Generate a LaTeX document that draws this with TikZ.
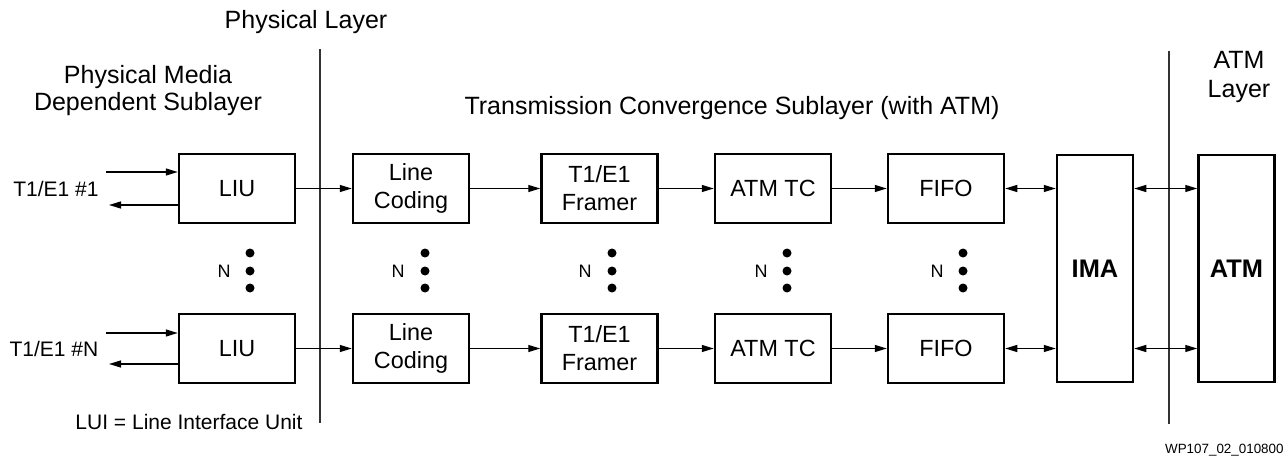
\documentclass[tikz,border=0pt]{standalone}
\usepackage{fontspec}
\setmainfont{Liberation Sans}
\usetikzlibrary{arrows.meta}
\begin{document}
\begin{tikzpicture}[x=0.5pt,y=-0.5pt,
  blk/.style={draw,line width=1.25pt,inner sep=0pt,minimum width=58pt,minimum height=34.5pt,align=center,font=\fontsize{11.7}{14}\selectfont},
  tall/.style={draw,line width=1.25pt,inner sep=0pt,minimum width=38pt,minimum height=113.5pt,font=\fontsize{12.7}{15}\selectfont\bfseries},
  hdr/.style={inner sep=0pt,align=center,font=\fontsize{12.5}{13}\selectfont},
  lbl/.style={inner sep=0pt,font=\fontsize{10.5}{12}\selectfont},
  nlbl/.style={inner sep=0pt,font=\fontsize{9}{11}\selectfont},
  dot/.style={circle,fill,inner sep=0pt,minimum size=4.5pt},
  conn/.style={line width=0.65pt,-{Triangle[length=6pt,width=3.5pt]}},
  bconn/.style={line width=0.65pt,{Triangle[length=6pt,width=3.5pt]}-{Triangle[length=6pt,width=3.5pt]}},
  sep/.style={line width=0.8pt,draw=black!80}]
\useasboundingbox (0,0) rectangle (1286,460);

% headers
\node[hdr] (phl) at (306,22) {Physical Layer};
\node[hdr,font=\fontsize{12.5}{13.5}\selectfont] (pmd) at (148,91) {Physical Media\\Dependent Sublayer};
\node[hdr] (tcs) at (732,108) {Transmission Convergence Sublayer (with ATM)};
\node[hdr,font=\fontsize{12.5}{14.5}\selectfont] (atl) at (1239,77) {ATM\\Layer};

% separators
\coordinate (s1t) at (320,49); \coordinate (s1b) at (320,423);
\coordinate (s2t) at (1169,51); \coordinate (s2b) at (1169,424);
\draw[sep] (s1t) -- (s1b);
\draw[sep] (s2t) -- (s2b);

% top row
\node[blk] (liu1) at (237,188.5) {LIU};
\node[blk] (lc1) at (411,188.5) {Line\\Coding};
\node[blk] (fr1) at (599.5,188.5) {T1/E1\\Framer};
\node[blk] (tc1) at (773,188.5) {ATM TC};
\node[blk] (ff1) at (946,188.5) {FIFO};
% bottom row
\node[blk] (liu2) at (237,348.5) {LIU};
\node[blk] (lc2) at (411,348.5) {Line\\Coding};
\node[blk] (fr2) at (599.5,348.5) {T1/E1\\Framer};
\node[blk] (tc2) at (773,348.5) {ATM TC};
\node[blk] (ff2) at (946,348.5) {FIFO};
% tall
\node[tall] (ima) at (1095,268.5) {IMA};
\node[tall] (atm) at (1236.5,268.5) {ATM};

% line inputs
\node[lbl] (t1) at (56,189) {T1/E1 \#1};
\node[lbl] (tn) at (54,349) {T1/E1 \#N};
\coordinate (i1) at (106,172); \coordinate (o1) at (109,205);
\coordinate (i2) at (106,333); \coordinate (o2) at (109,364);
\draw[conn] (i1) -- (i1 -| liu1.west);
\draw[conn] (o1 -| liu1.west) -- (o1);
\draw[conn] (i2) -- (i2 -| liu2.west);
\draw[conn] (o2 -| liu2.west) -- (o2);

% chains
\foreach \r in {1,2}{
  \draw[conn] (liu\r.east) -- (lc\r.west);
  \draw[conn] (lc\r.east) -- (fr\r.west);
  \draw[conn] (fr\r.east) -- (tc\r.west);
  \draw[conn] (tc\r.east) -- (ff\r.west);
  \draw[bconn] (ff\r.east) -- (ff\r.east -| ima.west);
}
\draw[bconn] (ima.east |- ff1.east) -- (atm.west |- ff1.east);
\draw[bconn] (ima.east |- ff2.east) -- (atm.west |- ff2.east);

% N dots
\foreach \nm/\dx/\nx in {a/250/224,b/425/398,c/612/585,d/787/761,e/963/937}{
  \node[nlbl] (n\nm) at (\nx,271) {N};
  \node[dot] (d\nm1) at (\dx,253) {};
  \node[dot] (d\nm2) at (\dx,271) {};
  \node[dot] (d\nm3) at (\dx,288) {};
}

% footnotes
\node[lbl] (lui) at (189,422) {LUI = Line Interface Unit};
\node[inner sep=0pt,anchor=east,font=\fontsize{6.7}{8}\selectfont] (wp) at (1284,450) {WP107\_02\_010800};
\end{tikzpicture}
\end{document}
